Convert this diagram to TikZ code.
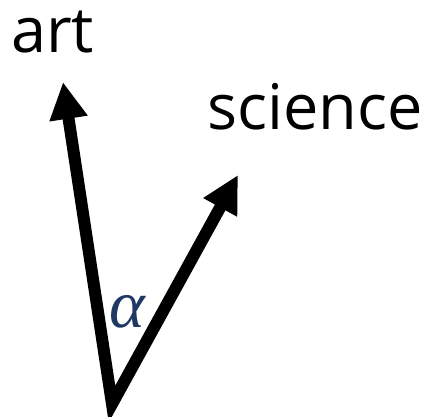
\documentclass[tikz,border=0pt]{standalone}
\usepackage{fontspec}
\setmainfont{Open Sans}
\newfontfamily\alphafont{Liberation Serif}
\usetikzlibrary{arrows.meta}
\definecolor{alphablue}{RGB}{31,56,100}
\begin{document}
\begin{tikzpicture}[x=1pt,y=1pt,
  lbl/.style={inner sep=0pt,font=\fontsize{63}{70}\selectfont},
  vec/.style={line width=12pt,line join=miter,
    {Triangle[length=37pt,width=36pt]}-{Triangle[length=37pt,width=36pt]}}]
\useasboundingbox (0,0) rectangle (428,417);
\coordinate (O) at (112,13);
\coordinate (A) at (63,335);
\coordinate (S) at (238,242);
\draw[vec] (A) -- (O) -- (S);
\node[lbl,anchor=base west] (art) at (11,364) {art};
\node[lbl,anchor=base west] (sci) at (207,287) {science};
\node[inner sep=0pt,text=alphablue,font=\fontsize{68}{74}\alphafont\itshape] (al) at (127,105) {α};
\end{tikzpicture}
\end{document}
